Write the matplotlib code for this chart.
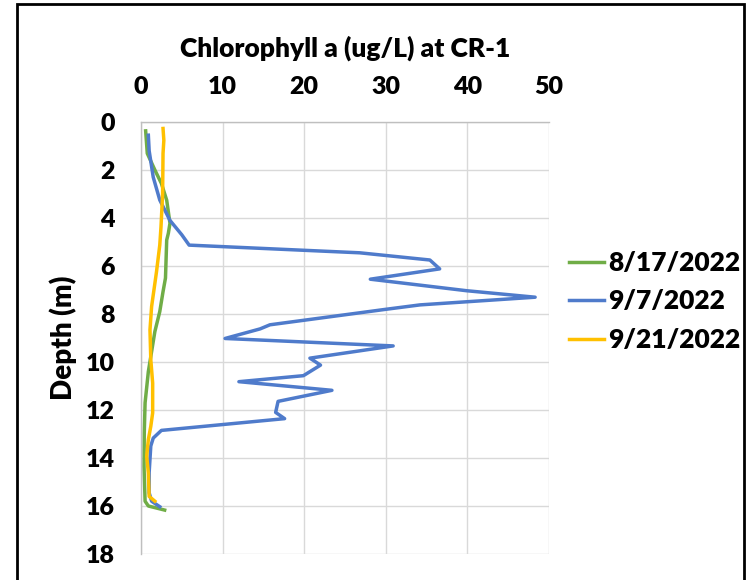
import matplotlib
matplotlib.use("Agg")
import matplotlib.pyplot as plt
from matplotlib.patches import Rectangle

plt.rcParams['font.family'] = ['Lato', 'DejaVu Sans']

# 8/17/2022
depth_0817 = [0.37, 1.31, 2.0, 2.56, 3.26, 4.22, 4.64, 4.92, 6.5, 7.07, 7.9, 8.73,
              10.4, 11.7, 12.96, 14.35, 15.8, 16.0, 16.17]
chl_0817 = [0.57, 0.77, 1.7, 2.5, 3.15, 3.55, 3.35, 3.15, 3.0, 2.7, 2.3, 1.7,
            0.9, 0.5, 0.4, 0.37, 0.5, 0.9, 2.9]

# 9/7/2022
depth_0907 = [0.55, 1.2, 2.3, 3.25, 4.1, 4.7, 5.13, 5.45, 5.75, 6.12, 6.55, 7.03,
              7.3, 7.62, 7.8, 8.45, 8.62, 9.02, 9.33, 9.84, 10.13, 10.57, 10.82,
              11.18, 11.64, 12.1, 12.36, 12.85, 13.17, 13.5, 14.6, 15.45, 15.8, 16.03]
chl_0907 = [0.9, 1.0, 1.5, 2.3, 3.55, 5.0, 5.9, 26.8, 35.4, 36.6, 28.1, 39.9,
            48.3, 34.2, 30.1, 15.8, 14.6, 10.3, 30.9, 20.7, 22.0, 19.9, 12.0,
            23.4, 16.8, 16.5, 17.6, 2.5, 1.5, 1.2, 1.0, 1.0, 1.3, 2.3]

# 9/21/2022
depth_0921 = [0.27, 0.76, 1.31, 2.98, 4.37, 5.13, 6.24, 7.69, 8.66, 9.9, 10.88,
              12.12, 12.68, 13.23, 13.93, 14.62, 15.6, 15.8]
chl_0921 = [2.7, 2.8, 2.7, 2.65, 2.45, 2.3, 1.9, 1.3, 1.1, 1.2, 1.43,
            1.43, 1.2, 0.9, 0.7, 0.9, 1.0, 1.7]

x_ticks = [0, 10, 20, 30, 40, 50]
y_ticks = [0, 2, 4, 6, 8, 10, 12, 14, 16, 18]

W = 'heavy'

fig = plt.figure(figsize=(7.52, 5.8), dpi=100)
ax = fig.add_axes([141 / 752, 1 - 554 / 580, 408 / 752, 432 / 580])

ax.plot(chl_0817, depth_0817, color='#70AD47', lw=2.5, label='8/17/2022')
ax.plot(chl_0907, depth_0907, color='#4F7BCB', lw=2.5, label='9/7/2022')
ax.plot(chl_0921, depth_0921, color='#FFC000', lw=2.5, label='9/21/2022')

ax.set_xlim(0, 50)
ax.set_ylim(18, 0)
ax.set_xticks(x_ticks)
ax.set_yticks(y_ticks)
ax.xaxis.tick_top()
ax.xaxis.set_label_position('top')
ax.tick_params(length=0, labelsize=18)
ax.tick_params(axis='x', pad=17.5)
ax.tick_params(axis='y', pad=19)
for t in ax.get_xticklabels() + ax.get_yticklabels():
    t.set_fontweight(W)

ax.grid(True, color='#D9D9D9', lw=1)
ax.set_axisbelow(True)
for s in ['right', 'bottom']:
    ax.spines[s].set_visible(False)
for s in ['top', 'left']:
    ax.spines[s].set_color('#BFBFBF')
    ax.spines[s].set_linewidth(1)

ax.set_xlabel('Chlorophyll a (ug/L) at CR-1', fontsize=19, fontweight=W, labelpad=14)
ax.set_ylabel('Depth (m)', fontsize=20, fontweight=W, labelpad=6)

leg = ax.legend(loc='center left', bbox_to_anchor=(0.99, 0.585), frameon=False,
                prop={'size': 19, 'weight': W}, handlelength=1.35,
                handletextpad=0.15, labelspacing=0.55)

fig.patches.append(Rectangle((17 / 752, -0.02), 727 / 752, 1 - 4 / 580 + 0.02,
                             transform=fig.transFigure, fill=False,
                             edgecolor='black', lw=2))

fig.savefig('out.png', dpi=100)
